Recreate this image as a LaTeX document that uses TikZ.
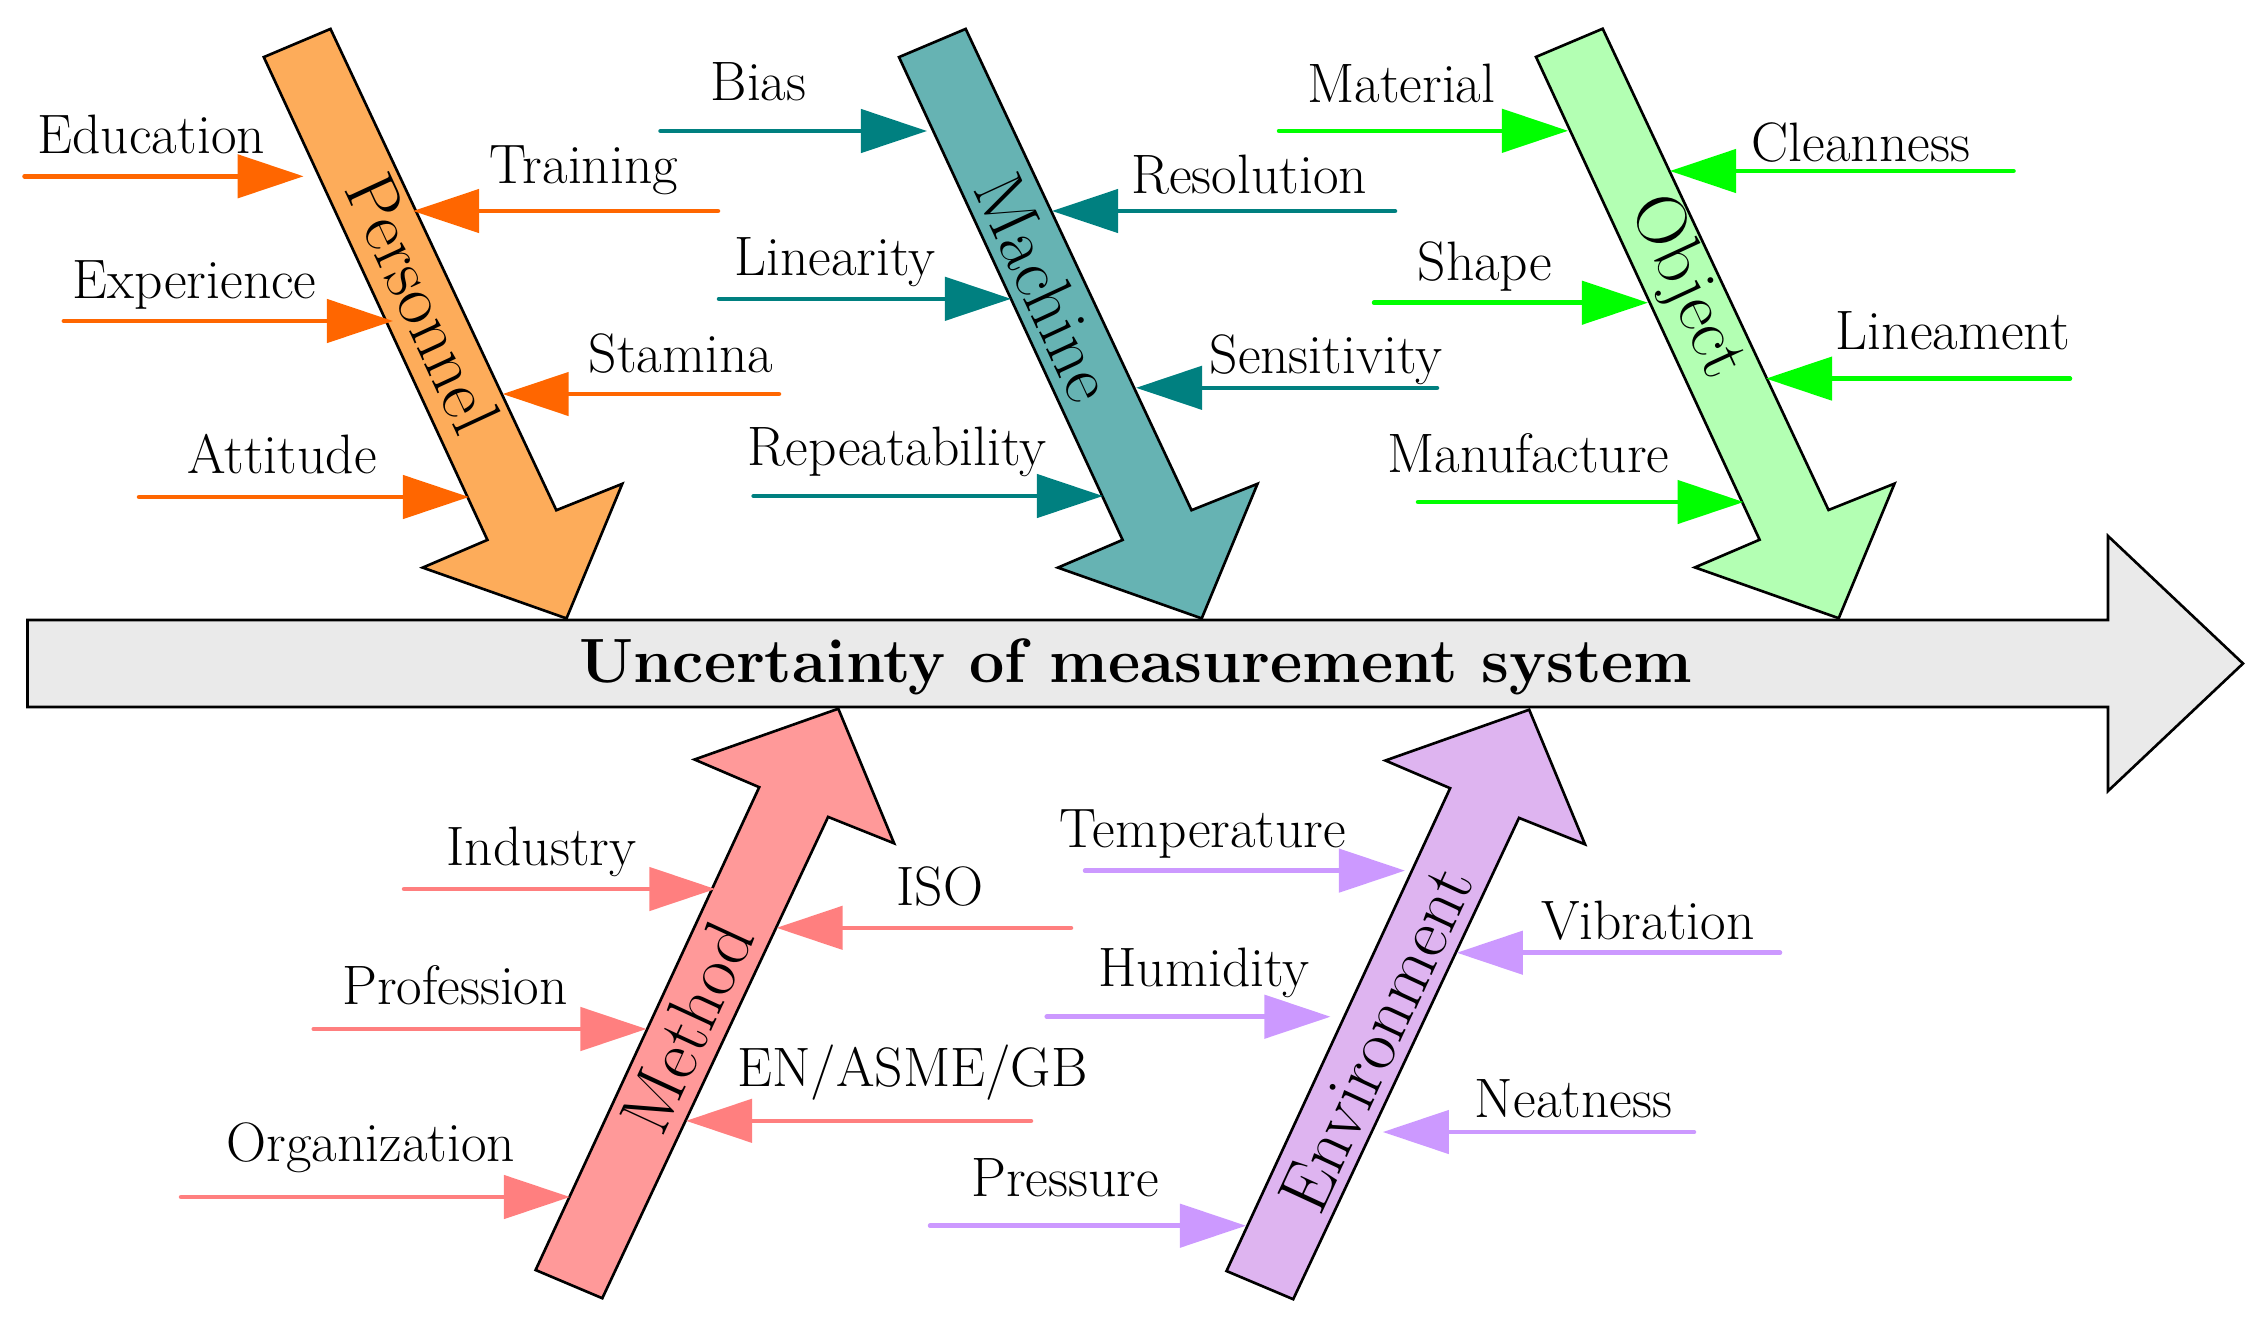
\documentclass[tikz,border=0pt]{standalone}
\usetikzlibrary{arrows.meta}
\definecolor{persfill}{RGB}{253,172,90}
\definecolor{persline}{RGB}{255,102,0}
\definecolor{machfill}{RGB}{102,179,179}
\definecolor{machline}{RGB}{0,128,128}
\definecolor{objfill}{RGB}{179,255,179}
\definecolor{objline}{RGB}{0,255,0}
\definecolor{methfill}{RGB}{255,153,153}
\definecolor{methline}{RGB}{255,127,127}
\definecolor{envfill}{RGB}{222,180,240}
\definecolor{envline}{RGB}{204,153,255}
\definecolor{mainfill}{RGB}{234,234,234}
\tikzset{
  bonestyle/.style={draw=black, line width=0.75pt, line join=miter},
  branch/.style={line width=1.28pt, line cap=round, -{Triangle[length=0.66cm,width=0.43cm]}},
  lbl/.style={font=\fontsize{15.8}{18}\selectfont, inner sep=0pt, anchor=base},
  bonelbl/.style={font=\fontsize{20.3}{24}\selectfont, inner sep=0pt, anchor=center},
}
\newcommand\drawbone[3]{%
  \begin{scope}[shift={(#1)},yscale=#2]
    \draw[bonestyle,fill=#3] (0,0) -- (66.7,-28.2) -- (292.5,453.1) -- (358.5,426.7)
      -- (302.7,561.3) -- (158.9,510.5) -- (223.6,482.8) -- cycle;
  \end{scope}}
\newcommand\branch[8]{%
  \coordinate (#1s) at (#3,#5);
  \coordinate (#1t) at (#4,#5);
  \draw[branch,color=#2] (#1s) -- (#1t);
  \node[lbl] (#1) at (#6,#7) {#8};}
\begin{document}
\begin{tikzpicture}[x=0.01cm,y=-0.01cm]
\useasboundingbox (0,0) rectangle (2266,1320);
% main arrow
\draw[bonestyle,fill=mainfill] (27.5,620) -- (2108,620) -- (2108,536) -- (2243,663.5)
  -- (2108,791) -- (2108,707) -- (27.5,707) -- cycle;
\node[font=\fontsize{17.8}{20}\selectfont\bfseries, inner sep=0pt, anchor=base] (effect) at (1136,682) {Uncertainty of measurement system};
% bones
\drawbone{263.8,57.1}{1}{persfill}
\drawbone{899,57.1}{1}{machfill}
\drawbone{1536,56.9}{1}{objfill}
\drawbone{535.6,1270}{-1}{methfill}
\drawbone{1226.5,1271}{-1}{envfill}
\node[bonelbl, rotate=-65.2] (personnel) at (423,303) {Personnel};
\node[bonelbl, rotate=-65.2] (machine) at (1045,287) {Machine};
\node[bonelbl, rotate=-65.2] (object) at (1686,288) {Object};
\node[bonelbl, rotate=65.2] (method) at (687,1027) {Method};
\node[bonelbl, rotate=65.2] (environment) at (1376,1039) {Environment};
% Personnel
\branch{edu}{persline}{24.5}{303.6}{176.3}{151.3}{153}{Education}
\branch{trn}{persline}{718}{413}{211}{584}{183.7}{Training}
\branch{exp}{persline}{63.8}{393}{321}{194.6}{298}{Experience}
\branch{sta}{persline}{779}{502.6}{394}{681}{372.7}{Stamina}
\branch{att}{persline}{139}{469}{497}{282}{473.5}{Attitude}
% Machine
\branch{bias}{machline}{660.5}{927}{131}{758.5}{100}{Bias}
\branch{res}{machline}{1395}{1052}{211}{1249.3}{193}{Resolution}
\branch{lin}{machline}{719}{1011}{298.8}{835}{275.5}{Linearity}
\branch{sen}{machline}{1437}{1136}{387.8}{1326}{373.5}{Sensitivity}
\branch{rep}{machline}{753.6}{1103}{496}{897.3}{465}{Repeatability}
% Object
\branch{mat}{objline}{1279}{1568}{130.8}{1401.4}{102.7}{Material}
\branch{cln}{objline}{2013.5}{1670}{171}{1860.8}{161.6}{Cleanness}
\branch{shp}{objline}{1374}{1648}{302.7}{1485}{280}{Shape}
\branch{lnm}{objline}{2070}{1766}{378.6}{1953}{349.6}{Lineament}
\branch{man}{objline}{1418}{1743.6}{502}{1528.5}{472}{Manufacture}
% Method
\branch{ind}{methline}{404}{715.4}{889}{541.5}{865.7}{Industry}
\branch{iso}{methline}{1071}{776.6}{927.8}{940}{905.7}{ISO}
\branch{pro}{methline}{313.7}{646.5}{1029}{455}{1004.5}{Profession}
\branch{std}{methline}{1031}{686}{1120.8}{912.3}{1086}{EN/ASME/GB}
\branch{org}{methline}{181}{570}{1197}{371}{1161.6}{Organization}
% Environment
\branch{tmp}{envline}{1085}{1405}{870.6}{1203}{847.3}{Temperature}
\branch{vib}{envline}{1780}{1456.8}{952.7}{1647.8}{939}{Vibration}
\branch{hum}{envline}{1046.7}{1330.5}{1016.7}{1204}{986}{Humidity}
\branch{nea}{envline}{1694}{1382.8}{1132}{1573.5}{1117.5}{Neatness}
\branch{prs}{envline}{930}{1246}{1225.7}{1065}{1196}{Pressure}
\end{tikzpicture}
\end{document}
